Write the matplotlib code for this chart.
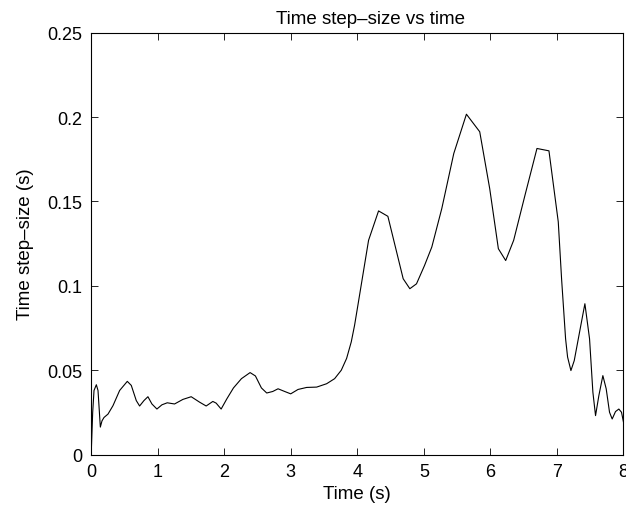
import matplotlib
matplotlib.use("Agg")
import matplotlib.pyplot as plt

plt.rcParams['font.family'] = ['Liberation Sans', 'DejaVu Sans']

# time (s) and step size (s)
t = [0, 0.005, 0.025, 0.045, 0.08, 0.105, 0.14, 0.165, 0.195, 0.255, 0.33, 0.43,
     0.545, 0.605, 0.68, 0.73, 0.795, 0.855, 0.915, 0.99, 1.065, 1.145, 1.255,
     1.38, 1.505, 1.63, 1.73, 1.83, 1.88, 1.955, 2.04, 2.14, 2.26, 2.39, 2.47,
     2.56, 2.64, 2.73, 2.81, 2.91, 3.0, 3.11, 3.24, 3.39, 3.54, 3.66, 3.76, 3.84,
     3.91, 3.96, 4.01, 4.17, 4.32, 4.46, 4.69, 4.79, 4.89, 5.01, 5.12, 5.27,
     5.45, 5.64, 5.84, 5.99, 6.12, 6.23, 6.35, 6.52, 6.70, 6.88, 7.02, 7.07,
     7.13, 7.16, 7.21, 7.26, 7.34, 7.42, 7.49, 7.54, 7.58, 7.63, 7.69, 7.74,
     7.79, 7.83, 7.88, 7.93, 7.97, 8.0]
dt = [0, 0.003, 0.025, 0.038, 0.0414, 0.038, 0.0163, 0.020, 0.022, 0.024, 0.029,
      0.038, 0.0434, 0.041, 0.032, 0.0288, 0.032, 0.0343, 0.030, 0.027, 0.0295,
      0.0307, 0.030, 0.0327, 0.0343, 0.0311, 0.0288, 0.0315, 0.0305, 0.027,
      0.033, 0.0395, 0.045, 0.0486, 0.0466, 0.0395, 0.0365, 0.0374, 0.039,
      0.0374, 0.036, 0.0386, 0.0398, 0.040, 0.042, 0.045, 0.050, 0.057, 0.0668,
      0.0767, 0.0886, 0.127, 0.1444, 0.1412, 0.1042, 0.0983, 0.1012, 0.112,
      0.123, 0.1458, 0.1784, 0.2017, 0.1913, 0.1576, 0.122, 0.115, 0.127,
      0.1537, 0.1814, 0.180, 0.1379, 0.104, 0.0686, 0.0578, 0.0498, 0.0557,
      0.0726, 0.0894, 0.0686, 0.037, 0.0231, 0.035, 0.0468, 0.039, 0.0251,
      0.0211, 0.0255, 0.027, 0.0251, 0.0192]

fig = plt.figure(figsize=(6.26, 5.06), dpi=100)
ax = fig.add_axes([0.1454, 0.0996, 0.8506, 0.8338])
ax.plot(t, dt, color='black', linewidth=0.8)

ax.set_xlim(0, 8)
ax.set_ylim(0, 0.25)
ax.set_xticks(range(0, 9))
ax.set_yticks([0, 0.05, 0.1, 0.15, 0.2, 0.25])
ax.set_yticklabels(['0', '0.05', '0.1', '0.15', '0.2', '0.25'])
ax.tick_params(direction='in', top=True, right=True, length=5, width=0.6,
               labelsize=13, pad=6)
for s in ax.spines.values():
    s.set_linewidth(0.8)

ax.set_xlabel('Time (s)', fontsize=13.5, labelpad=4)
ax.set_ylabel('Time step\u2013size (s)', fontsize=13.5, labelpad=10)
ax.set_title('Time step\u2013size vs time', fontsize=13.5, pad=7, x=0.524)

fig.savefig('out.png', dpi=100)
